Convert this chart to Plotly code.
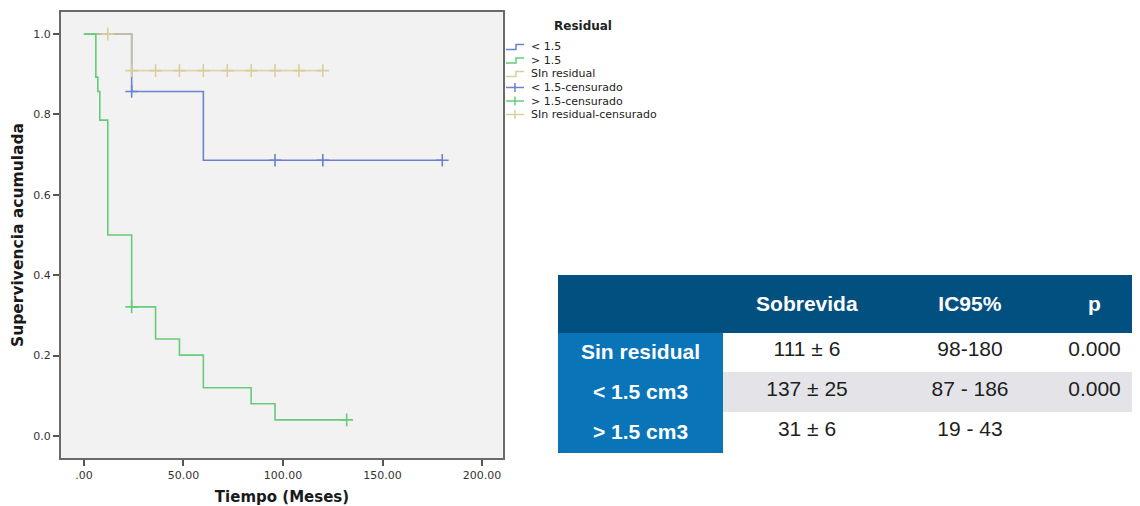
import plotly.graph_objects as go

# page is 1140x506; the browser puts the figure 8px in from the top-left corner
OFF = 8
W, H = 1140 - OFF, 506 - OFF

# ---------------- data ----------------
# Kaplan-Meier steps (time in months, cumulative survival)
lt15_time = [0, 24, 60, 180]
lt15_surv = [1.0, 0.857, 0.686, 0.686]
lt15_cens_time = [24, 96, 120, 180]
lt15_cens_surv = [0.857, 0.686, 0.686, 0.686]

gt15_time = [0, 6, 7, 8, 12, 24, 36, 48, 60, 84, 96, 132]
gt15_surv = [1.0, 0.893, 0.857, 0.786, 0.5, 0.321, 0.241, 0.201, 0.12, 0.08, 0.04, 0.04]
gt15_cens_time = [24, 132]
gt15_cens_surv = [0.321, 0.04]

sinres_time = [0, 24, 120]
sinres_surv = [1.0, 0.909, 0.909]
sinres_cens_time = [12, 24, 36, 48, 60, 72, 84, 96, 108, 120]
sinres_cens_surv = [1.0, 0.909, 0.909, 0.909, 0.909, 0.909, 0.909, 0.909, 0.909, 0.909]

x_tickvals = [0, 50, 100, 150, 200]
x_ticktext = [".00", "50.00", "100.00", "150.00", "200.00"]
y_tickvals = [0.0, 0.2, 0.4, 0.6, 0.8, 1.0]
y_ticktext = ["0.0", "0.2", "0.4", "0.6", "0.8", "1.0"]

legend_title = "Residual"
legend_names = ["< 1.5", "> 1.5", "SIn residual",
                "< 1.5-censurado", "> 1.5-censurado", "SIn residual-censurado"]
legend_kinds = ["line", "line", "line", "cens", "cens", "cens"]

table_header = ["", "Sobrevida", "IC95%", "p"]
table_groups = ["Sin residual", "< 1.5 cm3", "> 1.5 cm3"]
table_sobrevida = ["111 ± 6", "137 ± 25", "31 ± 6"]
table_ic95 = ["98-180", "87 - 186", "19 - 43"]
table_p = ["0.000", "0.000", ""]

# ---------------- styles ----------------
BLUE = "#6a82cf"
GREEN = "#66cc78"
TAN = "#d8cf9c"
legend_colors = [BLUE, GREEN, TAN, BLUE, GREEN, TAN]


def px_x(p):
    return (p - OFF) / W


def px_y(p):
    return 1 - (p - OFF) / H


fig = go.Figure()

series = [
    (lt15_time, lt15_surv, lt15_cens_time, lt15_cens_surv, BLUE, 1.0),
    (sinres_time, sinres_surv, sinres_cens_time, sinres_cens_surv, TAN, 0.8),
    (gt15_time, gt15_surv, gt15_cens_time, gt15_cens_surv, GREEN, 1.0),
]
for t, s, ct, cs, col, op in series:
    fig.add_trace(go.Scatter(
        x=t, y=s, mode="lines", opacity=op,
        line=dict(shape="hv", color=col, width=1.6),
        showlegend=False, hoverinfo="skip"))
for t, s, ct, cs, col, op in series:
    fig.add_trace(go.Scatter(
        x=ct, y=cs, mode="markers",
        marker=dict(symbol="cross-thin", size=9, line=dict(color=col, width=1.6)),
        showlegend=False, hoverinfo="skip"))

# ---------------- table ----------------
HDR = "#02507f"
LAB = "#0a74b9"
GRY = "#e4e4e8"
WHT = "#ffffff"
body_fill = [WHT, GRY, WHT]
TABLE_TOP = 275
HDR_SHIFT = 9   # header text sits lower in the reference
fig.add_trace(go.Table(
    domain=dict(x=[px_x(558), 1.0], y=[px_y(455), px_y(TABLE_TOP + HDR_SHIFT)]),
    columnwidth=[165, 168, 158, 91],
    header=dict(
        values=["<b>%s</b>" % h if h else "" for h in table_header],
        fill=dict(color=HDR),
        line=dict(color=HDR, width=1),
        font=dict(family="Liberation Sans, Arial, sans-serif", size=21, color="white"),
        align="center", height=57 - HDR_SHIFT),
    cells=dict(
        values=[["<b>%s</b>" % g for g in table_groups], table_sobrevida, table_ic95, table_p],
        fill=dict(color=[[LAB] * 3, body_fill, body_fill, body_fill]),
        line=dict(color=[[LAB] * 3, body_fill, body_fill, body_fill], width=1),
        font=dict(family="Liberation Sans, Arial, sans-serif", size=21,
                  color=["white", "#1e1e1e", "#1e1e1e", "#1e1e1e"]),
        align="center", height=40),
))

shapes = []
annotations = []
# top strip of the header band
shapes.append(dict(type="rect", xref="paper", yref="paper", layer="above",
                   x0=px_x(558), x1=1.0, y0=px_y(TABLE_TOP + HDR_SHIFT + 1), y1=px_y(TABLE_TOP),
                   fillcolor=HDR, line=dict(width=0)))

# ---------------- legend (drawn) ----------------
row_y = [47, 60.5, 74, 87.5, 101, 114.5]
for name, kind, col, yy in zip(legend_names, legend_kinds, legend_colors, row_y):
    if kind == "line":
        path = "M %f,%f L %f,%f L %f,%f L %f,%f" % (
            px_x(506), px_y(yy + 2.5), px_x(516), px_y(yy + 2.5),
            px_x(516), px_y(yy - 2.5), px_x(524), px_y(yy - 2.5))
        shapes.append(dict(type="path", xref="paper", yref="paper", path=path,
                           line=dict(color=col, width=1.5)))
    else:
        shapes.append(dict(type="line", xref="paper", yref="paper",
                           x0=px_x(506), x1=px_x(524), y0=px_y(yy), y1=px_y(yy),
                           line=dict(color=col, width=1.5)))
        shapes.append(dict(type="line", xref="paper", yref="paper",
                           x0=px_x(515), x1=px_x(515), y0=px_y(yy - 4.5), y1=px_y(yy + 4.5),
                           line=dict(color=col, width=1.5)))
    annotations.append(dict(text=name, xref="paper", yref="paper",
                            x=px_x(529), y=px_y(yy), xanchor="left", yanchor="middle",
                            showarrow=False,
                            font=dict(family="DejaVu Sans", size=11, color="#222222")))
annotations.append(dict(text="<b>%s</b>" % legend_title, xref="paper", yref="paper",
                        x=px_x(583), y=px_y(26), xanchor="center", yanchor="middle",
                        showarrow=False,
                        font=dict(family="DejaVu Sans", size=12, color="#222222")))

FRAME = "#6a6a6a"
fig.update_layout(
    width=W, height=H,
    margin=dict(l=0, r=0, t=0, b=0),
    paper_bgcolor="white",
    plot_bgcolor="#f2f2f2",
    showlegend=False,
    shapes=shapes,
    annotations=annotations,
    xaxis=dict(
        domain=[px_x(61), px_x(503)],
        range=[-11.5, 210.5],
        tickvals=x_tickvals, ticktext=x_ticktext,
        ticks="outside", ticklen=6, tickwidth=1.5, tickcolor="#555555",
        showline=True, mirror=True, linecolor=FRAME, linewidth=2,
        showgrid=False, zeroline=False,
        tickfont=dict(family="DejaVu Sans", size=11, color="#333333"),
        title=dict(text="<b>Tiempo (Meses)</b>", standoff=11,
                   font=dict(family="DejaVu Sans", size=15, color="#1a1a1a")),
    ),
    yaxis=dict(
        domain=[px_y(458), px_y(12)],
        range=[-0.055, 1.055],
        tickvals=y_tickvals, ticktext=y_ticktext,
        ticks="outside", ticklen=6, tickwidth=1.5, tickcolor="#555555",
        showline=True, mirror=True, linecolor=FRAME, linewidth=2,
        showgrid=False, zeroline=False,
        tickfont=dict(family="DejaVu Sans", size=11, color="#333333"),
        title=dict(text="<b>Supervivencia acumulada</b>", standoff=6,
                   font=dict(family="DejaVu Sans", size=15.5, color="#1a1a1a")),
    ),
)

fig.write_html("out.html")
